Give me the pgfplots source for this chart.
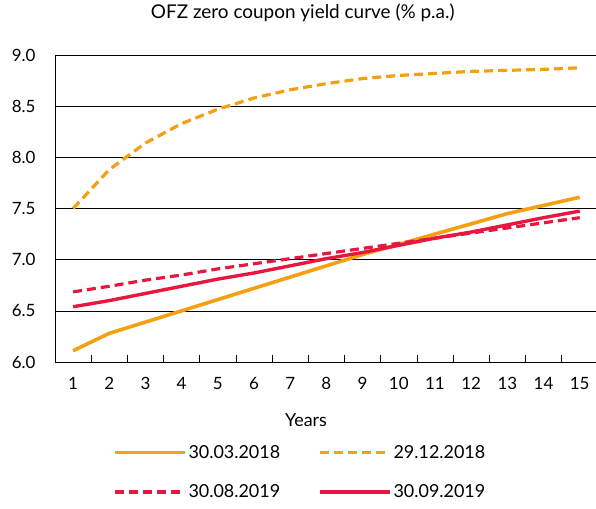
\documentclass[border=0pt]{standalone}
\usepackage{fontspec}
\setmainfont{Lato}
\usepackage{pgfplots}
\pgfplotsset{compat=1.18}
\definecolor{ingorange}{HTML}{F5A013}
\definecolor{ingred}{HTML}{E8173F}
\begin{document}
\begin{tikzpicture}
\begin{axis}[
  scale only axis, width=541bp, height=307bp,
  xmin=0.5, xmax=15.45, ymin=6, ymax=9,
  axis x line*=bottom, axis y line*=left,
  axis line style={-, black, line width=0.8bp},
  xtick={1,...,15}, major tick length=0,
  minor xtick={1.5,2.5,...,14.5}, minor tick length=7bp, tick align=inside,
  minor tick style={black, line width=0.6bp},
  ytick={6,6.5,...,9}, ymajorgrids,
  grid style={black, line width=0.6bp},
  yticklabel style={xshift=-16bp, /pgf/number format/fixed, /pgf/number format/fixed zerofill, /pgf/number format/precision=1},
  /pgf/number format/assume math mode=true,
  tick label style={font={\fontsize{17}{20}\selectfont}},
  xticklabel style={yshift=-12bp},
  title={OFZ zero coupon yield curve (\% p.a.)},
  title style={font={\fontsize{19}{22}\selectfont}, at={(0.458,1)}, anchor=south, yshift=24bp},
  xlabel={Years},
  xlabel style={font={\fontsize{18}{21}\selectfont}, at={(0.464,0)}, anchor=center, yshift=-58bp},
  legend columns=2,
  legend cell align=left,
  legend style={at={(0.453,0)}, anchor=north, yshift=-79bp, draw=none, fill=none,
    font={\fontsize{18}{21}\selectfont},
    /tikz/every even column/.append style={column sep=36bp},
    /tikz/row sep=21bp},
  legend image code/.code={\draw[#1] (0bp,0bp) -- (70bp,0bp);},
]
\addplot[ingorange, line width=3.6bp] coordinates {
(1,6.11) (2,6.28) (3,6.39) (4,6.50) (5,6.61) (6,6.72) (7,6.83) (8,6.94) (9,7.05) (10,7.15) (11,7.25) (12,7.35) (13,7.45) (14,7.53) (15,7.61)};
\addlegendentry{30.03.2018}
\addplot[ingorange, line width=3.2bp, dash pattern=on 9bp off 5bp] coordinates {
(1,7.50) (2,7.88) (3,8.14) (4,8.33) (5,8.47) (6,8.58) (7,8.66) (8,8.72) (9,8.77) (10,8.80) (11,8.82) (12,8.84) (13,8.85) (14,8.86) (15,8.875)};
\addlegendentry{29.12.2018}
\addplot[ingred, line width=3.2bp, dash pattern=on 9bp off 5bp] coordinates {
(1,6.685) (2,6.74) (3,6.80) (4,6.85) (5,6.91) (6,6.96) (7,7.01) (8,7.06) (9,7.11) (10,7.16) (11,7.21) (12,7.26) (13,7.31) (14,7.36) (15,7.41)};
\addlegendentry{30.08.2019}
\addplot[ingred, line width=3.4bp] coordinates {
(1,6.54) (2,6.60) (3,6.67) (4,6.74) (5,6.81) (6,6.87) (7,6.94) (8,7.01) (9,7.07) (10,7.14) (11,7.21) (12,7.27) (13,7.34) (14,7.41) (15,7.475)};
\addlegendentry{30.09.2019}
\end{axis}
\pgfresetboundingbox
\path ([shift={(-55bp,-147bp)}]current axis.south west) rectangle ([shift={(0bp,55bp)}]current axis.north east);
\end{tikzpicture}
\end{document}
